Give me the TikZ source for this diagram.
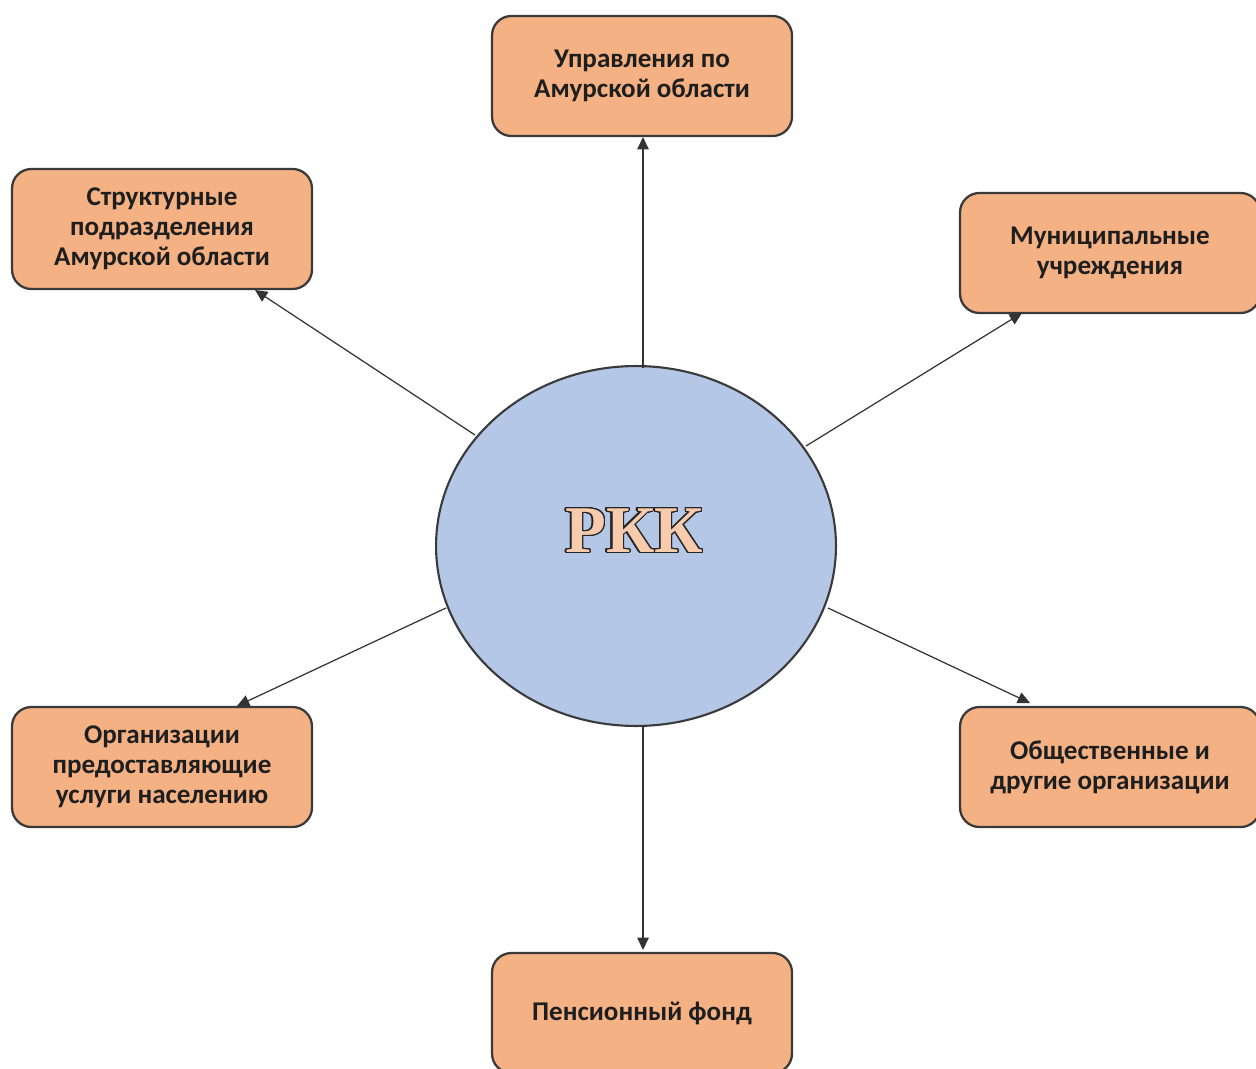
\documentclass[tikz,border=0pt]{standalone}
\usepackage{fontspec}
\setmainfont{Carlito}
\newfontfamily\rkkfont{Liberation Serif}
\usepackage[copies]{contour}
\usetikzlibrary{arrows.meta,shapes.geometric}
\definecolor{boxfill}{HTML}{F4B183}
\definecolor{boxline}{HTML}{3A3A3A}
\definecolor{ellfill}{HTML}{B4C7E7}
\definecolor{rkkfill}{HTML}{F8CBAD}
\definecolor{txt}{HTML}{1E1E1E}
\contourlength{0.7pt}
\contournumber{32}
\tikzset{
  orgbox/.style={draw=boxline, line width=1.3pt, fill=boxfill, rounded corners=11pt,
    minimum width=6cm, minimum height=2.4cm, align=center, text=txt,
    font=\fontsize{15.4}{17.1}\selectfont\bfseries, inner sep=2pt},
  link/.style={draw=black!80, line width=0.7pt, -{Triangle[length=7pt,width=6.5pt]}}
}
\begin{document}
\begin{tikzpicture}[x=0.02cm,y=-0.02cm]
\useasboundingbox (0,0) rectangle (1256,1068);
\clip (0,0) rectangle (1256,1068);
\node[ellipse, draw=boxline, line width=1.2pt, fill=ellfill, minimum width=8cm, minimum height=7.2cm, inner sep=0pt] (c) at (636,546) {};
\node (rkk) at (634,531) {\rkkfont\bfseries\fontsize{38}{38}\selectfont\contour{black!85}{\textcolor{rkkfill}{РКК}}};
\node[orgbox] (top) at (642,76) {Управления по\\Амурской области};
\node[orgbox] (tl) at (162,229) {Структурные\\подразделения\\Амурской области};
\node[orgbox] (rt) at (1110,253) {Муниципальные\\учреждения};
\node[orgbox] (bl) at (162,767) {Организации\\предоставляющие\\услуги населению};
\node[orgbox] (br) at (1110,767) {Общественные и\\другие организации};
\node[orgbox] (bot) at (642,1013) {Пенсионный фонд};
\coordinate (s0) at (643,368);
\coordinate (e0) at (643,137);
\coordinate (s1) at (475,435);
\coordinate (e1) at (255,290);
\coordinate (s2) at (806,446);
\coordinate (e2) at (1022,313);
\coordinate (s3) at (446,608);
\coordinate (e3) at (237,706);
\coordinate (s4) at (828,608);
\coordinate (e4) at (1030,703);
\coordinate (s5) at (643,725);
\coordinate (e5) at (643,950);
\draw[link] (s0) -- (e0);
\draw[link] (s1) -- (e1);
\draw[link] (s2) -- (e2);
\draw[link] (s3) -- (e3);
\draw[link] (s4) -- (e4);
\draw[link] (s5) -- (e5);
\end{tikzpicture}
\end{document}
